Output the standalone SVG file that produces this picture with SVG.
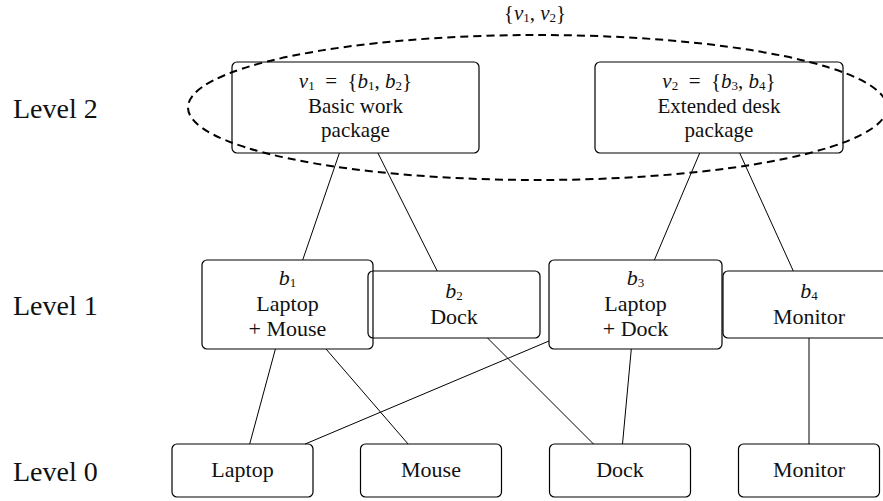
<svg xmlns="http://www.w3.org/2000/svg" width="883" height="501" viewBox="0 0 883 501">
<style>
text{font-family:"Liberation Serif","Times New Roman",Times,serif}
.box{fill:none;stroke:#000;stroke-width:1.2}
.t{font-size:22px;fill:#111;text-anchor:middle}
.tt{font-size:21px}
.lvl{font-size:28px;fill:#111}
.m{font-style:italic}
.s{font-size:13px;font-style:normal}
.edge{stroke:#000;stroke-width:1;fill:none}
</style>
<rect width="883" height="501" fill="#fff"/>
<g id="levels" font-family="Liberation Serif, serif">
<text class="lvl" x="13" y="118">Level 2</text>
<text class="lvl" x="13" y="315">Level 1</text>
<text class="lvl" x="13" y="481">Level 0</text>
</g>
<g id="connectors">
<line class="edge" x1="339.4" y1="153" x2="302.7" y2="260"/>
<line class="edge" x1="377.9" y1="153" x2="437.2" y2="271"/>
<line class="edge" x1="699.7" y1="153" x2="654.4" y2="260"/>
<line class="edge" x1="739.7" y1="153" x2="793.3" y2="271"/>
<line class="edge" x1="275.4" y1="349" x2="249.7" y2="444"/>
<line class="edge" x1="326" y1="349" x2="408.1" y2="444"/>
<line class="edge" x1="549" y1="341" x2="305.2" y2="444"/>
<line class="edge" x1="487.5" y1="338" x2="593.5" y2="444"/>
<line class="edge" x1="631.3" y1="349" x2="622.5" y2="444"/>
<line class="edge" x1="809" y1="338" x2="809" y2="444"/>
</g>
<g id="v1" font-family="Liberation Serif, serif">
<rect class="box" x="232" y="62" width="247" height="91" rx="5"/>
<text class="t tt" x="355.5" y="88"><tspan class="m">v</tspan><tspan class="s" dy="2">1</tspan><tspan dy="-2">&#160; = &#160;{</tspan><tspan class="m">b</tspan><tspan class="s" dy="2">1</tspan><tspan dy="-2">, </tspan><tspan class="m">b</tspan><tspan class="s" dy="2">2</tspan><tspan dy="-2">}</tspan></text>
<text class="t tt" x="355.5" y="113">Basic work</text>
<text class="t tt" x="355.5" y="137">package</text>
</g>
<g id="v2" font-family="Liberation Serif, serif">
<rect class="box" x="595" y="62" width="248" height="91" rx="5"/>
<text class="t tt" x="719" y="88"><tspan class="m">v</tspan><tspan class="s" dy="2">2</tspan><tspan dy="-2">&#160; = &#160;{</tspan><tspan class="m">b</tspan><tspan class="s" dy="2">3</tspan><tspan dy="-2">, </tspan><tspan class="m">b</tspan><tspan class="s" dy="2">4</tspan><tspan dy="-2">}</tspan></text>
<text class="t tt" x="719" y="113">Extended desk</text>
<text class="t tt" x="719" y="137">package</text>
</g>
<g id="v12" font-family="Liberation Serif, serif">
<ellipse cx="537.5" cy="107.5" rx="349.5" ry="72.5" fill="none" stroke="#000" stroke-width="2" stroke-dasharray="8 5"/>
<text class="t tt" x="535" y="20">{<tspan class="m">v</tspan><tspan class="s" dy="2">1</tspan><tspan dy="-2">, </tspan><tspan class="m">v</tspan><tspan class="s" dy="2">2</tspan><tspan dy="-2">}</tspan></text>
</g>
<g id="b1" font-family="Liberation Serif, serif">
<rect class="box" x="202" y="260" width="171" height="89" rx="5"/>
<text class="t" x="287.5" y="285"><tspan class="m">b</tspan><tspan class="s" dy="2">1</tspan></text>
<text class="t" x="287.5" y="311">Laptop</text>
<text class="t" x="287.5" y="336">+ Mouse</text>
</g>
<g id="b2" font-family="Liberation Serif, serif">
<rect class="box" x="368" y="271" width="172" height="67" rx="5"/>
<text class="t" x="454" y="298"><tspan class="m">b</tspan><tspan class="s" dy="2">2</tspan></text>
<text class="t" x="454" y="324">Dock</text>
</g>
<g id="b3" font-family="Liberation Serif, serif">
<rect class="box" x="549" y="260" width="173" height="89" rx="5"/>
<text class="t" x="635.5" y="285"><tspan class="m">b</tspan><tspan class="s" dy="2">3</tspan></text>
<text class="t" x="635.5" y="311">Laptop</text>
<text class="t" x="635.5" y="336">+ Dock</text>
</g>
<g id="b4" font-family="Liberation Serif, serif">
<rect class="box" x="723" y="271" width="172" height="67" rx="5"/>
<text class="t" x="809" y="298"><tspan class="m">b</tspan><tspan class="s" dy="2">4</tspan></text>
<text class="t" x="809" y="324">Monitor</text>
</g>
<g id="laptop" font-family="Liberation Serif, serif">
<rect class="box" x="172" y="444" width="141" height="53" rx="5"/>
<text class="t" x="242.5" y="477">Laptop</text>
</g>
<g id="mouse" font-family="Liberation Serif, serif">
<rect class="box" x="360.5" y="444" width="141" height="53" rx="5"/>
<text class="t" x="431" y="477">Mouse</text>
</g>
<g id="dock" font-family="Liberation Serif, serif">
<rect class="box" x="549.5" y="444" width="141" height="53" rx="5"/>
<text class="t" x="620" y="477">Dock</text>
</g>
<g id="monitor" font-family="Liberation Serif, serif">
<rect class="box" x="738.5" y="444" width="141" height="53" rx="5"/>
<text class="t" x="809" y="477">Monitor</text>
</g>
</svg>
